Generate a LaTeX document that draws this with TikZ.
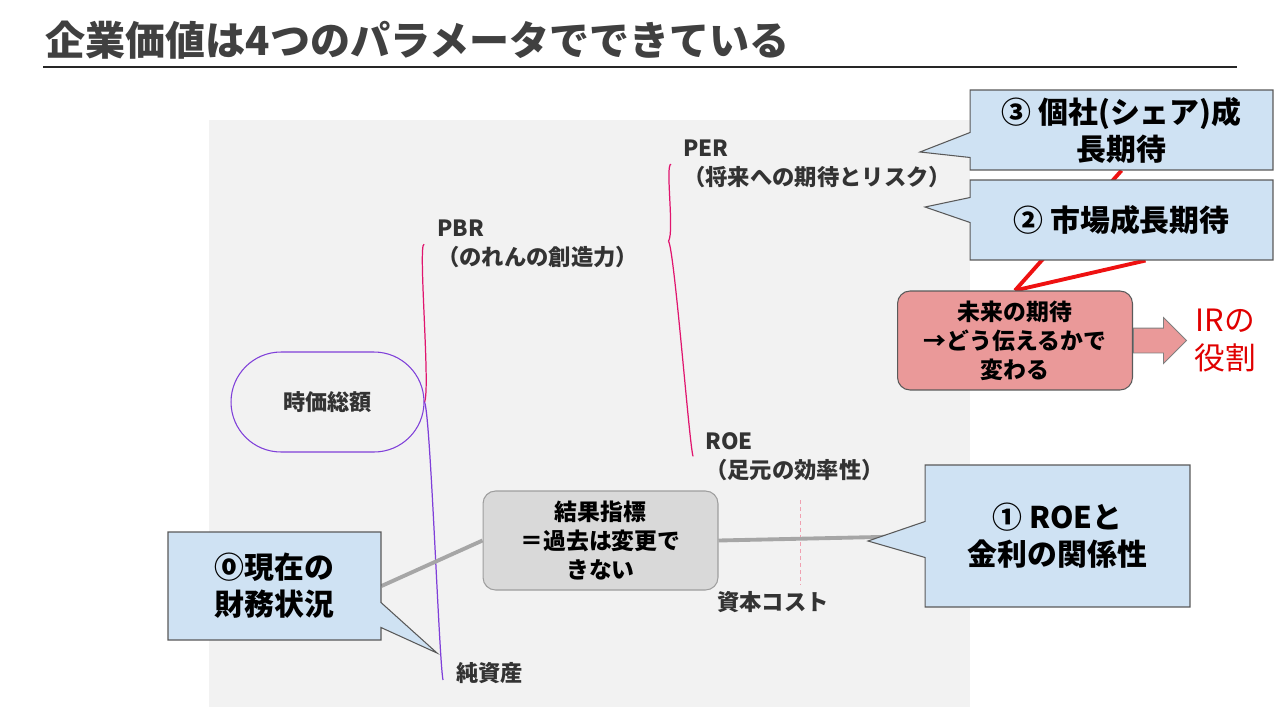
\documentclass[tikz,border=0pt]{standalone}
\usepackage{fontspec}
\setmainfont{Noto Sans CJK JP}
\usepackage{tikz}
\usetikzlibrary{shapes,arrows,positioning,calc,backgrounds}

\definecolor{titleGray}{HTML}{404040}
\definecolor{panelGray}{HTML}{F2F2F2}
\definecolor{mapTxt}{HTML}{333333}
\definecolor{mvPurple}{HTML}{7F3FD9}
\definecolor{braceRed}{HTML}{E0156E}
\definecolor{callFill}{HTML}{CFE2F3}
\definecolor{callEdge}{HTML}{595959}
\definecolor{resFill}{HTML}{D9D9D9}
\definecolor{resEdge}{HTML}{9E9E9E}
\definecolor{futFill}{HTML}{EA9999}
\definecolor{futEdge}{HTML}{5A5A5A}
\definecolor{lineGray}{HTML}{A6A6A6}
\definecolor{redLine}{HTML}{EE1111}
\definecolor{dashPink}{HTML}{F0A0B0}
\definecolor{irRed}{HTML}{E00000}
\definecolor{arrowEdge}{HTML}{7F7F7F}

\begin{document}
\begin{tikzpicture}[x=0.02cm,y=-0.02cm,
	title/.style={inner sep=0pt,text=titleGray,font=\fontsize{22.8}{27}\selectfont\bfseries},
	maptext/.style={inner sep=0pt,align=left,text=mapTxt,font=\fontsize{12.7}{16.4}\selectfont\bfseries},
	rootnode/.style={rectangle,rounded corners=1cm,draw=mvPurple,line width=0.6pt,minimum width=3.86cm,minimum height=2cm,text=mapTxt,font=\fontsize{12.6}{15}\selectfont\bfseries},
	callbox/.style={rectangle callout,draw=callEdge,fill=callFill,line width=0.6pt,align=center,inner sep=0pt,callout pointer width=0.5cm,font=\fontsize{17}{21}\selectfont\bfseries},
	resbox/.style={rectangle,rounded corners=0.25cm,draw=resEdge,fill=resFill,line width=0.6pt,align=center,minimum width=4.7cm,minimum height=1.98cm,font=\fontsize{13}{16.5}\selectfont\bfseries},
	futbox/.style={resbox,draw=futEdge,fill=futFill},
	irarrow/.style={single arrow,draw=arrowEdge,fill=futFill,line width=0.5pt,inner xsep=0pt,inner ysep=0.24cm,minimum height=1.06cm,single arrow head extend=0.21cm},
	irlabel/.style={inner sep=0pt,align=center,text=irRed,font=\fontsize{17.5}{21.5}\selectfont},
	pbrline/.style={draw=braceRed,line width=0.7pt},
	naline/.style={draw=mvPurple,line width=0.7pt},
	gline/.style={draw=lineGray,line width=2.2pt},
	redline/.style={draw=redLine,line width=2.2pt},
	costdash/.style={draw=dashPink,line width=0.5pt,dash pattern=on 2pt off 2pt,shorten >=0.12cm}]
\useasboundingbox (0,0) rectangle (1280,720);

% title
\node[title,anchor=west] (title) at (45,40) {企業価値は4つのパラメータでできている};
\draw[black!85,line width=1.7pt] (43,67) -- (1237,67);

% mind map
\node[rootnode] (mv) at (327.5,402) {時価総額};
\node[maptext,anchor=north west] (pbr) at (437,220) {PBR\\（のれんの創造力）};
\node[maptext,anchor=north west] (per) at (683,140) {PER\\（将来への期待とリスク）};
\node[maptext,anchor=north west] (roe) at (705,432) {ROE\\（足元の効率性）};
\node[maptext,anchor=west] (na) at (456,673) {純資産};
\node[maptext,anchor=west] (cost) at (717,602) {資本コスト};
\coordinate (perroe) at ($(pbr.east)+(30,-3)$);
\coordinate (costtop) at (800,500);

% boxes
\node[resbox] (res) at (600.5,540.5) {結果指標\\＝過去は変更で\\きない};
\node[futbox] (fut) at (1015,340.5) {未来の期待\\→どう伝えるかで\\変わる};
\node[irarrow,right=0pt of fut] (irarr) {};
\node[irlabel,right=0.14cm of irarr] (ir) {IRの\\役割};

% callouts
\coordinate (tip0) at (437,653);
\coordinate (tip1) at (868,541);
\coordinate (tip2) at (925,207);
\coordinate (tip3) at (920,152);
\node[callbox,minimum width=4.26cm,minimum height=2.16cm,callout absolute pointer={(tip0)}] (c0) at (274.5,586) {⓪現在の\\財務状況};
\node[callbox,minimum width=5.3cm,minimum height=2.84cm,callout pointer width=0.72cm,callout absolute pointer={(tip1)}] (c1) at (1057.5,536) {① ROEと\\金利の関係性};
\node[callbox,minimum width=6.06cm,minimum height=1.6cm,callout absolute pointer={(tip2)}] (c2) at (1121.5,220) {② 市場成長期待};
\node[callbox,minimum width=6.06cm,minimum height=1.6cm,callout absolute pointer={(tip3)}] (c3) at (1121.5,130) {③ 個社(シェア)成\\長期待};

\begin{scope}[on background layer]
\fill[panelGray] (209,120) rectangle (970,707);
\path[pbrline] (mv.east) .. controls +(6,-12) and +(-6,0) .. ($(pbr.west)+(-13,0)$);
\path[naline] (mv.east) .. controls +(6,12) and +(-4,-20) .. ($(na.west)+(-13,7)$);
\path[pbrline] (perroe) .. controls +(6,-10) and +(-6,0) .. ($(per.west)+(-12,0)$);
\path[pbrline] (perroe) .. controls +(6,10) and +(-4,-15) .. ($(roe.west)+(-12,0)$);
\path[costdash] (costtop) -- (costtop |- cost.north);
\path[gline] (c0.east) -- (res.west);
\path[gline] (res.east) -- (c1.west);
\path[redline] (c3.south) -- (fut.north);
\path[redline] ($(c2.south)+(24,0)$) -- (fut.north);
\end{scope}
\end{tikzpicture}
\end{document}
